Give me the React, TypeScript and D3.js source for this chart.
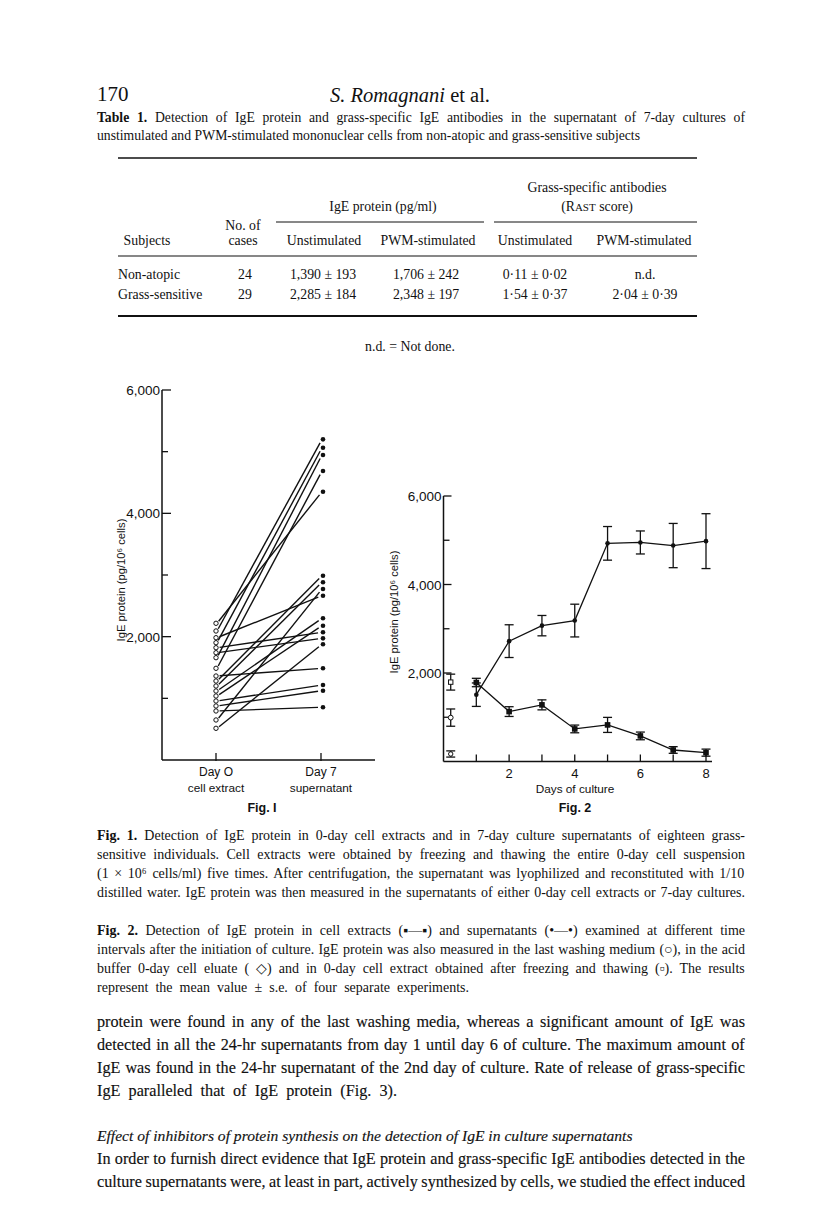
import React from 'react';
import * as d3 from 'd3';

// ---------- Data ----------
// Table 1
const tableSubjects = ['Non-atopic', 'Grass-sensitive'];
const tableCases = ['24', '29'];
const igeUnstim = ['1,390 ± 193', '2,285 ± 184'];
const igePwm = ['1,706 ± 242', '2,348 ± 197'];
const rastUnstim = ['0·11 ± 0·02', '1·54 ± 0·37'];
const rastPwm = ['n.d.', '2·04 ± 0·39'];

// Fig. 1 – paired individuals (pg/10^6 cells)
const fig1Day0 = [2217, 2092, 1902, 1659, 1487, 1281, 1200, 649, 1983, 1119, 1038, 1821, 1740, 514, 1362, 957, 876, 795];
const fig1Day7 = [4351, 5200, 5064, 4946, 4686, 2989, 2882, 2773, 2664, 2298, 2178, 2071, 1973, 1876, 1487, 1216, 1124, 855];
const fig1Categories = ['Day O', 'Day 7'];
const fig1CategorySub = ['cell extract', 'supernatant'];

// Fig. 2 – time course
const fig2Days = [1, 2, 3, 4, 5, 6, 7, 8];
const fig2SupMean = [1510, 2720, 3070, 3185, 4930, 4950, 4880, 4980];
const fig2SupErr = [265, 370, 230, 370, 380, 260, 500, 620];
const fig2CellMean = [1785, 1128, 1280, 736, 827, 578, 260, 200];
const fig2CellErr = [95, 110, 113, 87, 170, 87, 75, 80];
const fig2Day0Kinds = ['square', 'diamond', 'circle'];
const fig2Day0Mean = [1794, 992, 170];
const fig2Day0Err = [180, 195, 70];

const yTickValues = [1000, 2000, 3000, 4000, 5000, 6000];
const yTickLabels: Record<number, string> = { 2000: '2,000', 4000: '4,000', 6000: '6,000' };
const fig2XLabels = [2, 4, 6, 8];

// ---------- Styles ----------
const serif = "'Liberation Serif', 'Times New Roman', serif";
const sans = "'Liberation Sans', Arial, sans-serif";
const ink = '#111';

let _ctx: CanvasRenderingContext2D | null = null;
function measure(t: string, size: number, bold = false, italic = false) {
  if (!_ctx) _ctx = document.createElement('canvas').getContext('2d');
  if (!_ctx) return t.length * size * 0.45;
  _ctx.font = `${italic ? 'italic ' : ''}${bold ? 'bold ' : ''}${size}px "Liberation Serif"`;
  return _ctx.measureText(t).width;
}

type Seg = { t: string; b?: boolean; i?: boolean };
function JText({ x, y, w, size, segs, italic = false, heavy = 0 }: { x: number; y: number; w?: number; size: number; segs: Seg[]; italic?: boolean; heavy?: number }) {
  let ws = 0;
  if (w) {
    const nat = segs.reduce((s, g) => s + measure(g.t, size, !!g.b, !!(g.i || italic)), 0);
    const spaces = segs.reduce((s, g) => s + (g.t.match(/ /g) || []).length, 0);
    ws = spaces ? (w - nat) / spaces : 0;
  }
  return (
    <text x={x} y={y} fontFamily={serif} fontSize={size} fill={ink}
      stroke={heavy ? ink : 'none'} strokeWidth={heavy}
      style={{ wordSpacing: `${ws}px`, fontStyle: italic ? 'italic' : 'normal', whiteSpace: 'pre' }}>
      {segs.map((g, k) => (
        <tspan key={k} fontWeight={g.b ? 'bold' : 'normal'} fontStyle={g.i ? 'italic' : undefined}>{g.t}</tspan>
      ))}
    </text>
  );
}
function PLine({ x, y, size, children, anchor = 'start' }: any) {
  return (
    <text x={x} y={y} fontFamily={serif} fontSize={size} fill={ink} textAnchor={anchor}>{children}</text>
  );
}

function Fig1() {
  const y = d3.scaleLinear().domain([0, 6000]).range([760, 390]);
  const x = d3.scaleLinear().domain([0, 1]).range([216, 321]);
  const x0 = 162, xEnd = 375;
  return (
    <g stroke={ink} fill="none">
      <line x1={x0} x2={x0} y1={y(6000)} y2={y(0)} strokeWidth={1.5} />
      <line x1={x0} x2={xEnd} y1={y(0)} y2={y(0)} strokeWidth={1.5} />
      {yTickValues.map(v => (
        <line key={v} x1={x0} x2={x0 + (v % 2000 === 0 ? 9 : 6)} y1={y(v)} y2={y(v)} strokeWidth={1.3} />
      ))}
      {yTickValues.filter(v => yTickLabels[v]).map(v => (
        <text key={'l' + v} x={x0 - 2} y={y(v) + 5} textAnchor="end" fontFamily={sans} fontSize={13.5} fill={ink} stroke="none">{yTickLabels[v]}</text>
      ))}
      {[0, 1].map(i => (
        <line key={'xt' + i} x1={x(i)} x2={x(i)} y1={y(0) - 7} y2={y(0) + 1} strokeWidth={1.3} />
      ))}
      {fig1Categories.map((c, i) => (
        <text key={'c' + i} x={x(i)} y={776} textAnchor="middle" fontFamily={sans} fontSize={12} fill={ink} stroke="none">{c}</text>
      ))}
      {fig1CategorySub.map((c, i) => (
        <text key={'s' + i} x={x(i)} y={792} textAnchor="middle" fontFamily={sans} fontSize={11.8} fill={ink} stroke="none">{c}</text>
      ))}
      <text x={262} y={812} textAnchor="middle" fontFamily={sans} fontWeight="bold" fontSize={12.5} fill={ink} stroke="none">Fig. I</text>
      <text transform={`translate(125,580) rotate(-90)`} textAnchor="middle" fontFamily={sans} fontSize={11.2} fill={ink} stroke="none">IgE protein (pg/10⁶ cells)</text>
      {fig1Day0.map((v0, i) => {
        const v1 = fig1Day7[i];
        const ax = x(0) + 1, ay = y(v0), bx = x(1) + 1, by = y(v1);
        const dx = bx - ax, dy = by - ay, len = Math.sqrt(dx * dx + dy * dy);
        const sx = ax + dx / len * 2.6, sy = ay + dy / len * 2.6;
        const ex = bx - dx / len * 4, ey = by - dy / len * 4;
        return <line key={'p' + i} x1={sx} y1={sy} x2={ex} y2={ey} strokeWidth={1.4} />;
      })}
      {fig1Day0.map((v, i) => (
        <circle key={'o' + i} cx={x(0)} cy={y(v)} r={2.2} strokeWidth={1} fill="#fff" />
      ))}
      {fig1Day7.map((v, i) => (
        <circle key={'f' + i} cx={x(1) + 2} cy={y(v)} r={2.3} fill={ink} stroke="none" />
      ))}
    </g>
  );
}

function Fig2() {
  const x = d3.scaleLinear().domain([0, 8]).range([443.5, 706]);
  const y = d3.scaleLinear().domain([0, 6000]).range([761.5, 496]);
  const x0 = x(0), xEnd = 712;
  const line = d3.line<number>().x((_, i) => x(fig2Days[i])).y(d => y(d));
  const cap = 4.5;
  const errBar = (cx: number, m: number, e: number, key: string) => (
    <g key={key}>
      <line x1={cx} x2={cx} y1={y(m + e)} y2={y(m - e)} strokeWidth={1.3} />
      <line x1={cx - cap} x2={cx + cap} y1={y(m + e)} y2={y(m + e)} strokeWidth={1.3} />
      <line x1={cx - cap} x2={cx + cap} y1={y(m - e)} y2={y(m - e)} strokeWidth={1.3} />
    </g>
  );
  const dx0 = x(0.22);
  return (
    <g stroke={ink} fill="none">
      <line x1={x0} x2={x0} y1={y(6000)} y2={y(0)} strokeWidth={1.5} />
      <line x1={x0} x2={xEnd} y1={y(0)} y2={y(0)} strokeWidth={1.5} />
      {yTickValues.map(v => (
        <line key={v} x1={x0} x2={x0 + (v % 2000 === 0 ? 8 : 6)} y1={y(v)} y2={y(v)} strokeWidth={1.3} />
      ))}
      {yTickValues.filter(v => yTickLabels[v]).map(v => (
        <text key={'l' + v} x={x0 - 2} y={y(v) + 5} textAnchor="end" fontFamily={sans} fontSize={13.5} fill={ink} stroke="none">{yTickLabels[v]}</text>
      ))}
      {fig2Days.map(d => (
        <line key={'xt' + d} x1={x(d)} x2={x(d)} y1={y(0) - 7} y2={y(0)} strokeWidth={1.3} />
      ))}
      {fig2XLabels.map(d => (
        <text key={'xl' + d} x={x(d)} y={778} textAnchor="middle" fontFamily={sans} fontSize={13} fill={ink} stroke="none">{d}</text>
      ))}
      <text x={575} y={793} textAnchor="middle" fontFamily={sans} fontSize={11.8} fill={ink} stroke="none">Days of culture</text>
      <text x={575} y={812} textAnchor="middle" fontFamily={sans} fontWeight="bold" fontSize={12.5} fill={ink} stroke="none">Fig. 2</text>
      <text transform={`translate(398,612) rotate(-90)`} textAnchor="middle" fontFamily={sans} fontSize={11.2} fill={ink} stroke="none">IgE protein (pg/10⁶ cells)</text>

      <path d={line(fig2SupMean) || ''} strokeWidth={1.3} />
      <path d={line(fig2CellMean) || ''} strokeWidth={1.3} />
      {fig2Days.map((d, i) => errBar(x(d), fig2SupMean[i], fig2SupErr[i], 'se' + i))}
      {fig2Days.map((d, i) => errBar(x(d), fig2CellMean[i], fig2CellErr[i], 'ce' + i))}
      {fig2Days.map((d, i) => (
        <circle key={'sd' + i} cx={x(d)} cy={y(fig2SupMean[i])} r={2.3} fill={ink} stroke="none" />
      ))}
      {fig2Days.map((d, i) => (
        <rect key={'cd' + i} x={x(d) - 2.8} y={y(fig2CellMean[i]) - 2.8} width={5.6} height={5.6} fill={ink} stroke="none" />
      ))}
      {fig2Day0Kinds.map((k, i) => errBar(dx0, fig2Day0Mean[i], fig2Day0Err[i], 'd0e' + i))}
      {fig2Day0Kinds.map((k, i) => {
        const cy = y(fig2Day0Mean[i]);
        if (k === 'square') return <rect key={'d0' + i} x={dx0 - 2.2} y={cy - 2.2} width={4.4} height={4.4} fill="#fff" strokeWidth={1} />;
        if (k === 'diamond') return <circle key={'d0' + i} cx={dx0} cy={cy} r={2.4} fill="#fff" strokeWidth={1} />;
        return <circle key={'d0' + i} cx={dx0} cy={cy} r={2.2} fill="#fff" strokeWidth={1} />;
      })}
    </g>
  );
}

export default function App() {
  const L = 97, R = 745, TW = R - L;
  const cap = 14;
  const body = 16.2;
  const hv = 0.15;
  return (
    <svg width={816} height={1228} viewBox="0 0 816 1228"
      style={{ position: 'absolute', left: 0, top: 0, background: '#fff' }}>
      <rect x={0} y={0} width={816} height={1228} fill="#fff" />
      {/* Running header */}
      <PLine x={L} y={101} size={21}>170</PLine>
      <text x={410} y={102} textAnchor="middle" fontFamily={serif} fontSize={20.5} fill={ink}>
        <tspan fontStyle="italic">S. Romagnani</tspan> et al.
      </text>

      {/* Table caption */}
      <JText x={L} y={122} w={TW} size={13.7} segs={[{ t: 'Table 1.', b: true }, { t: ' Detection of IgE protein and grass-specific IgE antibodies in the supernatant of 7-day cultures of' }]} />
      <JText x={L} y={140} w={543} size={13.7} segs={[{ t: 'unstimulated and PWM-stimulated mononuclear cells from non-atopic and grass-sensitive subjects' }]} />

      {/* Table */}
      <line x1={118} x2={697} y1={158} y2={158} stroke={ink} strokeWidth={1.6} />
      <PLine x={597} y={192} size={13.8} anchor="middle">Grass-specific antibodies</PLine>
      <PLine x={383} y={211} size={13.8} anchor="middle">IgE protein (pg/ml)</PLine>
      <text x={597} y={211} textAnchor="middle" fontFamily={serif} fontSize={13.8} fill={ink}>(R<tspan fontSize={11}>AST</tspan> score)</text>
      <line x1={276} x2={484} y1={222} y2={222} stroke={ink} strokeWidth={1} />
      <line x1={494} x2={697} y1={222} y2={222} stroke={ink} strokeWidth={1} />
      <PLine x={243} y={230} size={13.8} anchor="middle">No. of</PLine>
      <PLine x={147} y={245} size={13.8} anchor="middle">Subjects</PLine>
      <PLine x={243} y={245} size={13.8} anchor="middle">cases</PLine>
      <PLine x={324} y={245} size={13.8} anchor="middle">Unstimulated</PLine>
      <PLine x={428} y={245} size={13.8} anchor="middle">PWM-stimulated</PLine>
      <PLine x={535} y={245} size={13.8} anchor="middle">Unstimulated</PLine>
      <PLine x={644} y={245} size={13.8} anchor="middle">PWM-stimulated</PLine>
      <line x1={118} x2={697} y1={256} y2={256} stroke={ink} strokeWidth={1.1} />
      {tableSubjects.map((s, i) => {
        const yy = 279 + i * 20;
        return (
          <g key={s}>
            <PLine x={118} y={yy} size={13.8}>{s}</PLine>
            <PLine x={245} y={yy} size={13.8} anchor="middle">{tableCases[i]}</PLine>
            <PLine x={323} y={yy} size={13.8} anchor="middle">{igeUnstim[i]}</PLine>
            <PLine x={426} y={yy} size={13.8} anchor="middle">{igePwm[i]}</PLine>
            <PLine x={535} y={yy} size={13.8} anchor="middle">{rastUnstim[i]}</PLine>
            <PLine x={645} y={yy} size={13.8} anchor="middle">{rastPwm[i]}</PLine>
          </g>
        );
      })}
      <line x1={118} x2={697} y1={316} y2={316} stroke={ink} strokeWidth={1.8} />
      <PLine x={410} y={351} size={13.8} anchor="middle">n.d. = Not done.</PLine>

      <Fig1 />
      <Fig2 />

      {/* Figure captions */}
      <JText x={L} y={840} w={TW} size={cap} segs={[{ t: 'Fig. 1.', b: true }, { t: ' Detection of IgE protein in 0-day cell extracts and in 7-day culture supernatants of eighteen grass-' }]} />
      <JText x={L} y={859} w={TW} size={cap} segs={[{ t: 'sensitive individuals. Cell extracts were obtained by freezing and thawing the entire 0-day cell suspension' }]} />
      <JText x={L} y={878} w={TW} size={cap} segs={[{ t: '(1 × 10⁶ cells/ml) five times. After centrifugation, the supernatant was lyophilized and reconstituted with 1/10' }]} />
      <JText x={L} y={897} w={TW} size={cap} segs={[{ t: 'distilled water. IgE protein was then measured in the supernatants of either 0-day cell extracts or 7-day cultures.' }]} />

      <JText x={L} y={935} w={TW} size={cap} segs={[{ t: 'Fig. 2.', b: true }, { t: ' Detection of IgE protein in cell extracts (▪—▪) and supernatants (•—•) examined at different time' }]} />
      <JText x={L} y={954} w={TW} size={cap} segs={[{ t: 'intervals after the initiation of culture. IgE protein was also measured in the last washing medium (○), in the acid' }]} />
      <JText x={L} y={973} w={TW} size={cap} segs={[{ t: 'buffer 0-day cell eluate ( ◇) and in 0-day cell extract obtained after freezing and thawing (▫). The results' }]} />
      <JText x={L} y={992} w={372} size={cap} segs={[{ t: 'represent the mean value ± s.e. of four separate experiments.' }]} />

      {/* Body text */}
      <JText x={L} y={1027} w={TW} size={body} heavy={hv} segs={[{ t: 'protein were found in any of the last washing media, whereas a significant amount of IgE was' }]} />
      <JText x={L} y={1050} w={TW} size={body} heavy={hv} segs={[{ t: 'detected in all the 24-hr supernatants from day 1 until day 6 of culture. The maximum amount of' }]} />
      <JText x={L} y={1073} w={TW} size={body} heavy={hv} segs={[{ t: 'IgE was found in the 24-hr supernatant of the 2nd day of culture. Rate of release of grass-specific' }]} />
      <JText x={L} y={1096} w={300} size={body} heavy={hv} segs={[{ t: 'IgE paralleled that of IgE protein (Fig. 3).' }]} />
      <JText x={L} y={1141} size={15.6} heavy={hv} italic segs={[{ t: 'Effect of inhibitors of protein synthesis on the detection of IgE in culture supernatants' }]} />
      <JText x={L} y={1164} w={TW} size={body} heavy={hv} segs={[{ t: 'In order to furnish direct evidence that IgE protein and grass-specific IgE antibodies detected in the' }]} />
      <JText x={L} y={1187} w={TW} size={body} heavy={hv} segs={[{ t: 'culture supernatants were, at least in part, actively synthesized by cells, we studied the effect induced' }]} />
    </svg>
  );
}
